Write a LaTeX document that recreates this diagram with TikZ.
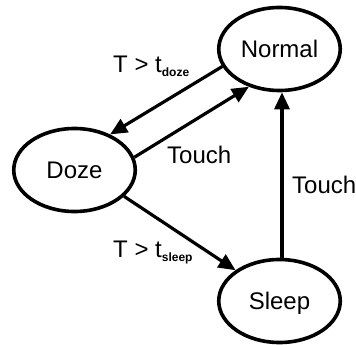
\documentclass[tikz,border=0pt]{standalone}
\usepackage{fontspec}
\setmainfont{Liberation Sans}
\usetikzlibrary{arrows.meta,shapes.geometric}
\tikzset{
  state/.style={ellipse, draw, line width=3.6pt, minimum width=121.5pt, minimum height=83pt,
    inner sep=0pt, text depth=0pt, font=\fontsize{24}{24}\selectfont},
  trans/.style={line width=3.2pt, -{Triangle[length=17pt,width=15pt]}},
  lbl/.style={anchor=base west, inner sep=0pt, font=\fontsize{24}{24}\selectfont},
}
\newcommand{\subtxt}[1]{\raisebox{-4pt}{\fontsize{12}{12}\selectfont\bfseries #1}}
\begin{document}
\begin{tikzpicture}[x=1pt,y=-1pt]
\useasboundingbox (0,0) rectangle (356,345);
\node[state] (normal) at (279.5,49) {Normal};
\node[state] (doze) at (74.5,170) {Doze};
\node[state] (sleep) at (279.5,301) {Sleep};
\draw[trans] (normal.197) -- (doze.45);
\draw[trans] (doze.12) -- (normal.231);
\draw[trans] (doze.332) -- (sleep.145);
\draw[trans] ([xshift=2.5pt]sleep.north) -- ([xshift=2.5pt]normal.south);
\node[lbl] (ldoze) at (113,73) {T > t\subtxt{doze}};
\node[lbl] (ltouch1) at (167,163) {Touch};
\node[lbl] (ltouch2) at (292,193) {Touch};
\node[lbl] (lsleep) at (113,257) {T > t\subtxt{sleep}};
\end{tikzpicture}
\end{document}
